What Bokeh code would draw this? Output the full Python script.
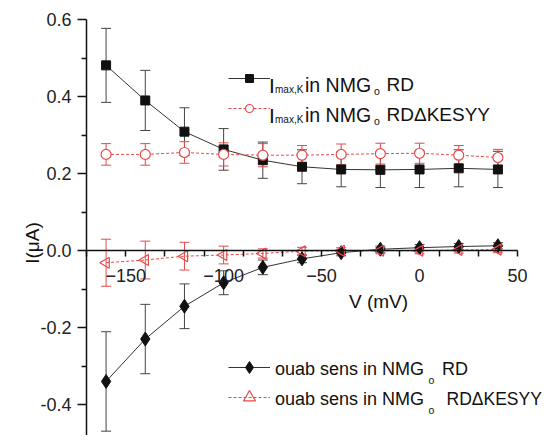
from bokeh.plotting import figure
from bokeh.models import (ColumnDataSource, Whisker, TeeHead, FixedTicker, Legend,
                          LegendItem, Label, PrintfTickFormatter)
from bokeh.embed import file_html
from bokeh.resources import INLINE
import math

# ---------------- data ----------------
voltage = [-160, -140, -120, -100, -80, -60, -40, -20, 0, 20, 40]
imax_rd = [0.481, 0.390, 0.309, 0.263, 0.235, 0.218, 0.211, 0.210, 0.211, 0.214, 0.211]
imax_rd_err = [0.096, 0.078, 0.062, 0.054, 0.047, 0.044, 0.045, 0.046, 0.047, 0.048, 0.047]
imax_dk = [0.250, 0.250, 0.255, 0.250, 0.248, 0.248, 0.250, 0.252, 0.253, 0.248, 0.242]
imax_dk_err = [0.028, 0.028, 0.028, 0.030, 0.030, 0.025, 0.027, 0.027, 0.026, 0.025, 0.021]
ouab_rd = [-0.339, -0.229, -0.144, -0.083, -0.043, -0.021, -0.005, 0.004, 0.008, 0.011, 0.013]
ouab_rd_err = [0.129, 0.090, 0.058, 0.031, 0.019, 0.010, 0.008, 0.008, 0.008, 0.008, 0.008]
ouab_dk = [-0.031, -0.024, -0.014, -0.011, -0.007, -0.001, 0.000, 0.000, 0.000, 0.002, 0.003]
ouab_dk_err = [0.061, 0.049, 0.036, 0.023, 0.012, 0.010, 0.008, 0.008, 0.008, 0.008, 0.008]

x_major = [-150, -100, -50, 0, 50]
x_minor = [-170, -150, -130, -110, -90, -70, -50, -30, -10, 10, 30, 50]
y_major = [-0.4, -0.2, 0.0, 0.2, 0.4, 0.6]
y_minor = [-0.5, -0.3, -0.1, 0.1, 0.3, 0.5]

BLACK = "#111111"
GRAY = "#444444"
RED = "#e64a4a"
FONT = "Liberation Sans"

W, H = 545, 435
# axis extents (data) and their pixel placement in the canvas
XA0, XA1 = -170, 50
YA1 = 0.6
PX_PER_X = 431.0 / 220.0
PX_PER_Y = 424.0 / 1.1
LEFT, TOP = 86, 19
X0 = XA0 - LEFT / PX_PER_X
X1 = XA0 + (W - LEFT) / PX_PER_X
Y1 = YA1 + TOP / PX_PER_Y
Y0 = YA1 - (H - TOP) / PX_PER_Y

p = figure(width=W, height=H, x_range=(X0, X1), y_range=(Y0, Y1),
           output_backend="svg", toolbar_location=None,
           min_border_left=0, min_border_right=0, min_border_top=0, min_border_bottom=0)
p.outline_line_color = None
p.grid.visible = False
p.background_fill_color = "white"

# x axis crossing at y = 0
xa = p.xaxis[0]
xa.fixed_location = 0
xa.bounds = (XA0, XA1)
xa.ticker = FixedTicker(ticks=x_major, minor_ticks=x_minor)
xa.major_tick_out = 0
xa.major_tick_in = 0
xa.minor_tick_out = 6
xa.minor_tick_in = 0
xa.major_label_standoff = 12
xa.axis_line_width = 1.5
xa.axis_line_color = BLACK
xa.minor_tick_line_color = BLACK
xa.minor_tick_line_width = 1.5
xa.major_label_text_font = FONT
xa.major_label_text_font_size = "18px"
xa.major_label_text_color = "#222222"

# y axis at x = -170
ya = p.yaxis[0]
ya.fixed_location = XA0
ya.bounds = (Y0, YA1)
ya.ticker = FixedTicker(ticks=y_major, minor_ticks=y_minor)
ya.formatter = PrintfTickFormatter(format="%.1f")
ya.major_tick_out = 9
ya.major_tick_in = 0
ya.minor_tick_out = 5
ya.minor_tick_in = 0
ya.axis_line_width = 1.5
ya.axis_line_color = BLACK
ya.major_tick_line_color = BLACK
ya.major_tick_line_width = 1.5
ya.minor_tick_line_color = BLACK
ya.minor_tick_line_width = 1.5
ya.major_label_standoff = 6
ya.major_label_text_font = FONT
ya.major_label_text_font_size = "18px"
ya.major_label_text_color = "#222222"

# error bars
def add_err(y, err, color):
    src = ColumnDataSource(dict(x=voltage, up=[a + e for a, e in zip(y, err)],
                                lo=[a - e for a, e in zip(y, err)]))
    w = Whisker(base="x", upper="up", lower="lo", source=src, dimension="height",
                line_color=color, line_width=1,
                upper_head=TeeHead(size=10, line_color=color, line_width=1),
                lower_head=TeeHead(size=10, line_color=color, line_width=1),
                level="underlay")
    p.add_layout(w)

add_err(imax_rd, imax_rd_err, GRAY)
add_err(imax_dk, imax_dk_err, RED)
add_err(ouab_rd, ouab_rd_err, GRAY)
add_err(ouab_dk, ouab_dk_err, RED)

# series
l1 = p.line(voltage, imax_rd, line_color="#333333", line_width=1)
s1 = p.scatter(voltage, imax_rd, marker="square", size=9, fill_color=BLACK, line_color=BLACK)
l2 = p.line(voltage, imax_dk, line_color=RED, line_width=1, line_dash="3 2")
s2 = p.scatter(voltage, imax_dk, marker="circle", size=10, fill_color="white",
               line_color=RED, line_width=1.2)
l3 = p.line(voltage, ouab_rd, line_color="#333333", line_width=1)
s3 = p.scatter(voltage, ouab_rd, marker="diamond", size=14, fill_color=BLACK, line_color=BLACK)
l4 = p.line(voltage, ouab_dk, line_color=RED, line_width=1, line_dash="3 2")
s4 = p.scatter(voltage, ouab_dk, marker="triangle", size=11, angle=math.pi / 2,
               fill_color=None, line_color=RED, line_width=1.2)

# legends (glyph samples); location = (left, bottom) in px from frame bottom-left
def mk_legend(items, loc, gh, sp):
    lg = Legend(items=[LegendItem(label=" ", renderers=r) for r in items], location=loc,
                glyph_width=42, glyph_height=gh, label_height=gh, label_width=0,
                label_standoff=0, spacing=sp, padding=0, margin=0,
                border_line_alpha=0, background_fill_alpha=0,
                label_text_font_size="10px")
    p.add_layout(lg)

mk_legend([[l1, s1], [l2, s2]], (228, H - 118), 20, 10)
mk_legend([[l3, s3], [l4, s4]], (228, H - 412), 30, 0)

# text annotations (positions in canvas pixels, converted to data units)
def px2x(px):
    return X0 + px / PX_PER_X

def py2y(py):
    return Y1 - py / PX_PER_Y

def txt(px, py, s, size="19px", align="left", angle=0.0):
    p.add_layout(Label(x=px2x(px), y=py2y(py), text=s, text_font=FONT,
                       text_font_size=size, text_color="#111111", angle=angle,
                       text_baseline="alphabetic", text_align=align))

for dy, tail in [(0, "RD"), (30, "RD\u0394KESYY")]:
    txt(268.5, 84.5 + dy, "I", "21px")
    txt(274.5, 88.5 + dy, "max,K", "10px")
    txt(304.5, 84 + dy, "in NMG", "19.5px")
    txt(373.5, 90.3 + dy, "o", "10.5px")
    txt(386, 84 + dy, tail, "19px")

txt(274.5, 368.7, "ouab sens in NMG", "18px")
txt(428, 379.3, "o", "10.5px")
txt(441.5, 368.7, "RD", "18px")
txt(274.5, 398.7, "ouab sens in NMG", "18px")
txt(428, 409.3, "o", "10.5px")
txt(446, 398.7, "RD\u0394KESYY", "17.5px")

txt(378, 301, "V (mV)", "19px", align="center")
txt(32, 242.5, "I(\u03bcA)", "19px", align="center", angle=math.pi / 2)

open("out.html", "w").write(file_html(p, INLINE))
